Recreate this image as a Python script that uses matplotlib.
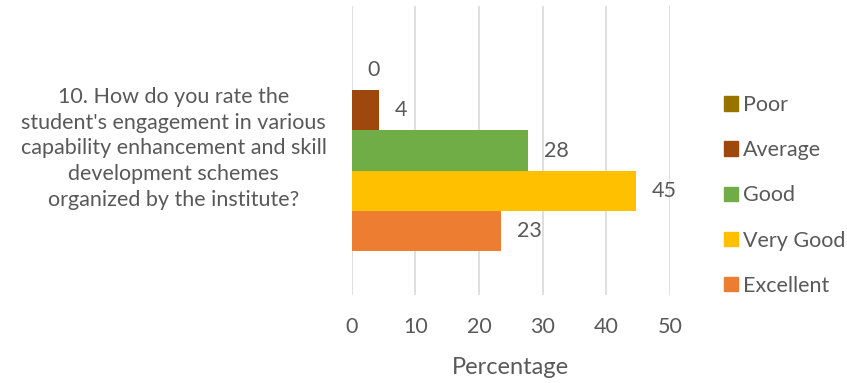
import matplotlib.pyplot as plt
from matplotlib.patches import Patch
from matplotlib.transforms import ScaledTranslation

question = ("10. How do you rate the\nstudent's engagement in various\n"
            "capability enhancement and skill\ndevelopment schemes\n"
            "organized by the institute?")
ratings = ["Poor", "Average", "Good", "Very Good", "Excellent"]
percent = [0, 4.3, 27.7, 44.6, 23.4]
colors = ["#997300", "#9E480E", "#70AD47", "#FFC000", "#ED7D31"]

TEXT = "#595959"
FS = 15.5

plt.rcParams["font.family"] = ["Lato", "DejaVu Sans"]

fig = plt.figure(figsize=(8.47, 3.83), dpi=100)
ax = fig.add_axes([0.415, 0.230, 0.376, 0.754])

bar_h = 0.2
for i, (name, val, col) in enumerate(zip(ratings, percent, colors)):
    y = 0.4 - i * bar_h
    ax.barh(y, val, height=bar_h, color=col, label=name, zorder=2)
    ax.annotate(f"{val:.0f}", (val, y), xytext=(11.5, 0), textcoords="offset points",
                ha="left", va="center", fontsize=FS, color=TEXT)

ax.set_xlim(0, 50)
ax.set_ylim(-0.719, 0.719)
ax.set_xticks(range(0, 51, 10))
ax.set_yticks([0])
ax.set_yticklabels([question], ha="center", linespacing=1.35)
ax.tick_params(axis="y", length=0, pad=128, labelsize=FS, labelcolor=TEXT)
ax.tick_params(axis="x", length=0, pad=16, labelsize=FS, labelcolor=TEXT)
# nudge the question up a little
for lbl in ax.get_yticklabels():
    lbl.set_transform(lbl.get_transform() + ScaledTranslation(0, 5 / 72, fig.dpi_scale_trans))
ax.grid(axis="x", color="#D9D9D9", lw=1.2, zorder=0)
for s in ax.spines.values():
    s.set_visible(False)
ax.set_xlabel("Percentage", fontsize=17, color=TEXT, labelpad=14)

handles = [Patch(color=c, label=n) for n, c in zip(ratings, colors)]
fig.legend(handles=handles, loc="upper left", bbox_to_anchor=(0.842, 0.78),
           frameon=False, fontsize=FS, labelcolor=TEXT, handlelength=0.65,
           handleheight=0.65, handletextpad=0.25, labelspacing=1.17, borderpad=0)

fig.savefig("out.png", dpi=100)
